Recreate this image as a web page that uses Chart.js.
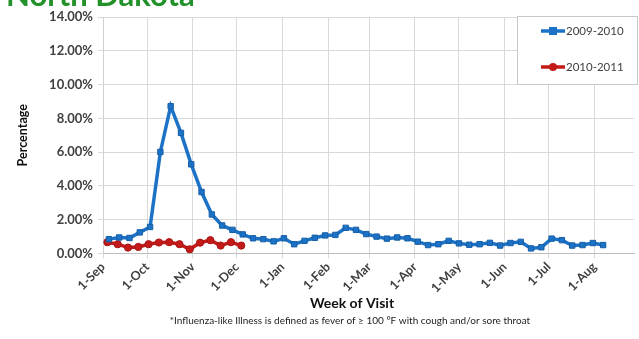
<!DOCTYPE html>
<html>
<head>
<meta charset="utf-8">
<script src="https://cdn.jsdelivr.net/npm/chart.js@4.4.1/dist/chart.umd.min.js"></script>
<style>
  html, body { margin: 0; padding: 0; background: #fff; overflow: hidden; }
  canvas { display: block; }
</style>
</head>
<body>
<canvas id="c" width="639" height="339"></canvas>
<script>
// Weekly percentage of visits for influenza-like illness, by flu season
const stateName = 'North Dakota';
const seriesNames = ['2009-2010', '2010-2011'];
const firstWeekEnding = ['2009-09-05', '2010-09-04'];

const ili0910 = [0.85, 0.95, 0.92, 1.25, 1.57, 6.01, 8.72, 7.14, 5.28, 3.64,
                 2.31, 1.66, 1.40, 1.13, 0.90, 0.85, 0.72, 0.90, 0.55, 0.75,
                 0.93, 1.07, 1.10, 1.52, 1.40, 1.15, 1.00, 0.88, 0.95, 0.90,
                 0.70, 0.50, 0.55, 0.75, 0.60, 0.52, 0.55, 0.63, 0.47, 0.62,
                 0.69, 0.30, 0.37, 0.88, 0.79, 0.47, 0.50, 0.62, 0.50];
const ili1011 = [0.67, 0.55, 0.35, 0.39, 0.55, 0.65, 0.67, 0.55, 0.25, 0.64,
                 0.79, 0.47, 0.67, 0.47];

const monthTickLabels = ['1-Sep', '1-Oct', '1-Nov', '1-Dec', '1-Jan', '1-Feb',
                         '1-Mar', '1-Apr', '1-May', '1-Jun', '1-Jul', '1-Aug'];
const yTitle = 'Percentage';
const xTitle = 'Week of Visit';
const footnote = '*Influenza-like Illness is defined as fever of \u2265 100 \u00B0F with cough and/or sore throat';

const DAY = 86400000;
const MONTH_INDEX = { Jan: 0, Feb: 1, Mar: 2, Apr: 3, May: 4, Jun: 5, Jul: 6, Aug: 7, Sep: 8, Oct: 9, Nov: 10, Dec: 11 };

// days since 1 September of the season's first year
function dayOfSeason(iso) {
  const [y, m, d] = iso.split('-').map(Number);
  const start = Date.UTC(m >= 9 ? y : y - 1, 8, 1);
  return Math.round((Date.UTC(y, m - 1, d) - start) / DAY);
}
const monthTickDays = monthTickLabels.map(lbl => {
  const m = MONTH_INDEX[lbl.split('-')[1]];
  const y = m >= 8 ? 2009 : 2010;
  return Math.round((Date.UTC(y, m, 1) - Date.UTC(2009, 8, 1)) / DAY);
});

function weekly(values, firstIso) {
  const d0 = dayOfSeason(firstIso);
  return values.map((v, i) => ({ x: d0 + 7 * i, y: v }));
}

const FONT = 'Lato, "Open Sans", "Liberation Sans", sans-serif';
const BLUE = '#1c72c6';
const RED = '#c41a1a';

// Title (partly above the canvas top), axis title, footnote and in-plot legend
const decorations = {
  id: 'decorations',
  afterDraw(chart) {
    const ctx = chart.ctx;
    ctx.save();
    ctx.fillStyle = '#23912a';
    ctx.font = 'bold 31px ' + FONT;
    ctx.textAlign = 'left';
    ctx.textBaseline = 'alphabetic';
    ctx.fillText(stateName, 6, 6);

    ctx.fillStyle = '#111';
    ctx.font = 'bold 14px ' + FONT;
    ctx.textAlign = 'center';
    ctx.textBaseline = 'middle';
    ctx.fillText(xTitle, 352, 303);
    ctx.font = '10px ' + FONT;
    ctx.fillStyle = '#222';
    ctx.fillText(footnote, 350, 321);

    // legend box
    const bx = 517, by = 16, bw = 120, bh = 68;
    ctx.fillStyle = '#fff';
    ctx.fillRect(bx, by, bw, bh);
    ctx.strokeStyle = '#c8c8c8';
    ctx.lineWidth = 1;
    ctx.strokeRect(bx + 0.5, by + 0.5, bw, bh);
    const rows = [by + 15, by + 51];
    chart.data.datasets.forEach((ds, i) => {
      const y = rows[i];
      ctx.strokeStyle = ds.borderColor;
      ctx.lineWidth = 3.5;
      ctx.beginPath();
      ctx.moveTo(541, y);
      ctx.lineTo(565, y);
      ctx.stroke();
      ctx.fillStyle = ds.pointBackgroundColor;
      if (ds.pointStyle === 'rect') {
        ctx.fillRect(549, y - 4, 8, 8);
      } else {
        ctx.beginPath();
        ctx.arc(553, y, 4, 0, Math.PI * 2);
        ctx.fill();
      }
      ctx.fillStyle = '#404040';
      ctx.font = '11.5px ' + FONT;
      ctx.textAlign = 'left';
      ctx.textBaseline = 'middle';
      ctx.fillText(ds.label, 566, y);
    });
    ctx.restore();
  }
};

new Chart(document.getElementById('c'), {
  type: 'line',
  data: {
    datasets: [
      {
        label: seriesNames[0],
        data: weekly(ili0910, firstWeekEnding[0]),
        borderColor: BLUE,
        backgroundColor: BLUE,
        pointBackgroundColor: BLUE,
        pointBorderColor: '#175fa6',
        pointBorderWidth: 1,
        pointStyle: 'rect',
        pointRadius: 3.8,
        borderWidth: 3.5,
        tension: 0
      },
      {
        label: seriesNames[1],
        data: weekly(ili1011, firstWeekEnding[1]),
        borderColor: RED,
        backgroundColor: RED,
        pointBackgroundColor: RED,
        pointBorderColor: '#a81414',
        pointBorderWidth: 1,
        pointStyle: 'circle',
        pointRadius: 3.6,
        borderWidth: 3.5,
        tension: 0
      }
    ]
  },
  options: {
    responsive: false,
    animation: false,
    devicePixelRatio: 1,
    layout: { padding: { top: 17, right: 0, bottom: 45, left: 0 } },
    plugins: { legend: { display: false }, tooltip: { enabled: false } },
    scales: {
      x: {
        type: 'linear',
        min: 0,
        max: 361,
        afterBuildTicks(scale) {
          scale.ticks = monthTickDays.map(v => ({ value: v }));
        },
        afterFit(scale) { scale.height = 40.5; },
        ticks: {
          autoSkip: false,
          minRotation: 45,
          maxRotation: 45,
          padding: 1,
          color: '#404040',
          font: { family: FONT, size: 12.5, weight: 'bold' },
          callback: (value, index) => monthTickLabels[index]
        },
        grid: { color: '#d9d9d9', lineWidth: 1, tickLength: 5, drawTicks: true },
        border: { color: '#bdbdbd' }
      },
      y: {
        min: 0,
        max: 14,
        afterFit(scale) { scale.width = 103; },
        ticks: {
          stepSize: 2,
          padding: 5,
          color: '#404040',
          font: { family: FONT, size: 13, weight: 'bold' },
          callback: v => v.toFixed(2) + '%'
        },
        grid: { color: '#d9d9d9', lineWidth: 1, tickLength: 5 },
        border: { color: '#d0d0d0' },
        title: {
          display: true,
          text: yTitle,
          color: '#111',
          font: { family: FONT, size: 12.5, weight: 'bold' },
          padding: { top: 15, bottom: 0 }
        }
      }
    }
  },
  plugins: [decorations]
});
</script>
</body>
</html>
